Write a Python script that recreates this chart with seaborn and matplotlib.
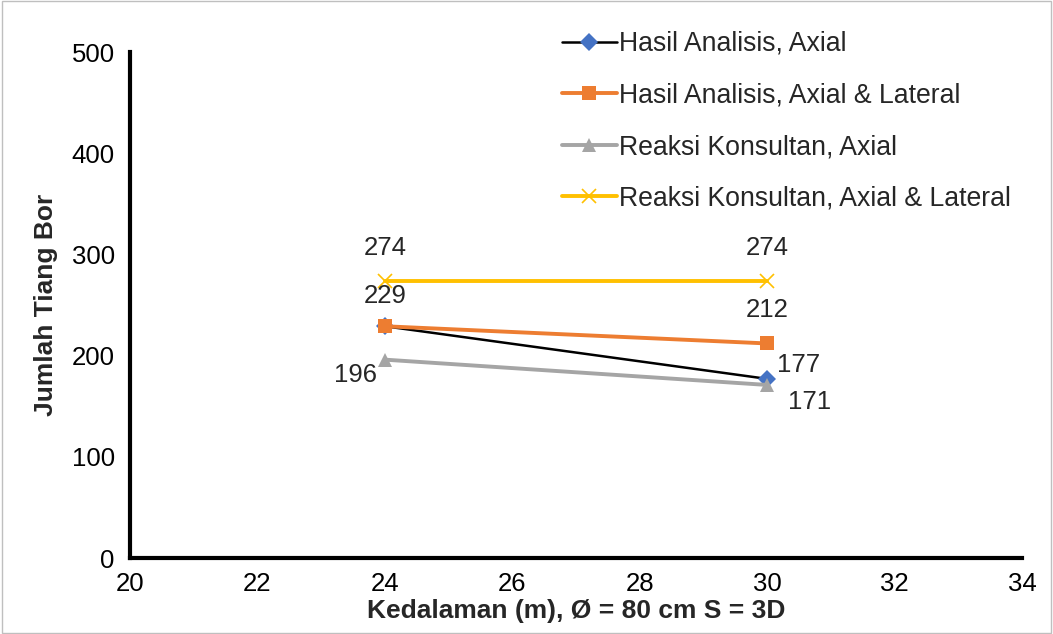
import matplotlib
matplotlib.use("Agg")
import matplotlib.pyplot as plt
import seaborn as sns
import pandas as pd
from matplotlib.patches import Rectangle

depth = [24, 30]
series_names = ["Hasil Analisis, Axial", "Hasil Analisis, Axial & Lateral",
                "Reaksi Konsultan, Axial", "Reaksi Konsultan, Axial & Lateral"]
hasil_axial = [229, 177]
hasil_axial_lateral = [229, 212]
reaksi_axial = [196, 171]
reaksi_axial_lateral = [274, 274]
values = [hasil_axial, hasil_axial_lateral, reaksi_axial, reaksi_axial_lateral]
x_ticks = [20, 22, 24, 26, 28, 30, 32, 34]
y_ticks = [0, 100, 200, 300, 400, 500]

sns.set_style("white")
plt.rcParams['font.family'] = ['Liberation Sans', 'DejaVu Sans']

fig = plt.figure(figsize=(10.53, 6.34), dpi=100)
ax = fig.add_axes([130/1053, 1-558/634, (1022-130)/1053, (558-52)/634])

line_colors = ["#000000", "#ED7D31", "#A5A5A5", "#FFC000"]
marker_colors = ["#4472C4", "#ED7D31", "#A5A5A5", "#FFC000"]
markers = ["D", "s", "^", "x"]
msizes = [9, 10.5, 10, 10]
lws = [1.8, 2.8, 2.8, 2.8]

for name, vals, lc, mc, mk, ms, lw in zip(series_names, values, line_colors, marker_colors, markers, msizes, lws):
    df = pd.DataFrame({"x": depth, "y": vals})
    sns.lineplot(data=df, x="x", y="y", ax=ax, color=lc, linewidth=lw, label=name,
                 marker=mk, markersize=ms, markerfacecolor=mc, markeredgecolor=mc,
                 markeredgewidth=1.2 if mk == "x" else 0)

# data labels
fs = 18.5
def lab(x, y, dx, dy, ha):
    ax.annotate(str(y), (x, y), xytext=(dx, dy), textcoords="offset points",
                ha=ha, va="center", fontsize=fs)

lab(depth[0], reaksi_axial_lateral[0], 0, 23.5, "center")
lab(depth[1], reaksi_axial_lateral[1], 0, 23.5, "center")
lab(depth[0], hasil_axial_lateral[0], 0, 22, "center")
lab(depth[1], hasil_axial_lateral[1], 0, 24, "center")
lab(depth[0], reaksi_axial[0], -6, -11, "right")
lab(depth[1], hasil_axial[1], 7, 10, "left")
lab(depth[1], reaksi_axial[1], 15, -12, "left")

ax.set_xlim(20, 34)
ax.set_ylim(0, 500)
ax.set_xticks(x_ticks)
ax.set_yticks(y_ticks)
ax.tick_params(axis="both", direction="out", length=6, width=2, labelsize=18.5, colors="black")
ax.tick_params(axis="x", pad=4)
ax.tick_params(axis="y", pad=5)
for side in ["top", "right"]:
    ax.spines[side].set_visible(False)
for side in ["left", "bottom"]:
    ax.spines[side].set_linewidth(3)
    ax.spines[side].set_color("black")

ax.set_xlabel("Kedalaman (m), Ø = 80 cm S = 3D", fontsize=19, fontweight="bold", labelpad=2)
ax.set_ylabel("Jumlah Tiang Bor", fontsize=19, fontweight="bold", labelpad=10)

leg = ax.legend(loc="upper left", bbox_to_anchor=(562/1053, 1-31/634), bbox_transform=fig.transFigure,
                frameon=False, fontsize=19.2, labelspacing=0.96, handlelength=2.05, handletextpad=0.1,
                borderaxespad=0, borderpad=0)

fig.patches.append(Rectangle((0.002, 0.002), 0.996, 0.996, transform=fig.transFigure,
                             fill=False, edgecolor="#BFBFBF", linewidth=1))

fig.savefig("out.png", dpi=100)
